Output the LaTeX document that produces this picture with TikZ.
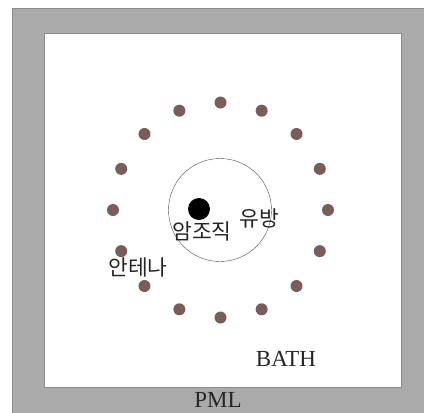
\documentclass[tikz,border=0pt]{standalone}
\usepackage{fontspec}
\setmainfont{Liberation Serif}
\newfontfamily\krfont{Noto Sans CJK KR}
\usepackage{tikz}
\usetikzlibrary{positioning, calc}
\usepackage{xcolor}
\definecolor{pmlgray}{RGB}{170,170,170}
\definecolor{framegray}{RGB}{140,140,140}
\definecolor{antennabrown}{RGB}{122,92,88}
\tikzset{
  pmlbox/.style={draw=framegray, fill=pmlgray},
  bathbox/.style={draw=framegray, fill=white},
  antennadot/.style={circle, fill=antennabrown, inner sep=0pt, minimum size=12pt},
  tumordot/.style={circle, fill=black, inner sep=0pt, minimum size=22pt},
  breastcircle/.style={circle, draw=black!70, inner sep=0pt, minimum size=103pt},
  krlabel/.style={font=\krfont\fontsize{21.5}{24}\selectfont, text=black!85, inner sep=0pt},
  enlabel/.style={font=\fontsize{23}{26}\selectfont, text=black!85, inner sep=0pt}
}
\begin{document}
\begin{tikzpicture}[x=1pt, y=-1pt]
  \useasboundingbox (0,0) rectangle (424,413);
  \fill[white] (0,0) rectangle (424,413);
  % PML and bath regions
  \draw[pmlbox] (12,8) rectangle (426,415);
  \draw[bathbox] (44,33) rectangle (401,387);
  % breast and tumour
  \node[breastcircle] (breast) at (220,210) {};
  \node[tumordot] (tumor) at (199,209) {};
  % antenna ring
  \coordinate (ringc) at (220.5,210);
  \foreach \i in {0,...,15} {
    \node[antennadot] (ant\i) at ($(ringc)+({90-22.5*\i}:-107.5 and 107.5)$) {};
  }
  % labels
  \node[krlabel] (tumorlbl) at (202,231) {암조직};
  \node[krlabel] (breastlbl) at (259,218) {유방};
  \node[krlabel] (antlbl) at (138,267) {안테나};
  \node[enlabel] (bathlbl) at (286,359) {BATH};
  \node[enlabel] (pmllbl) at (218,400) {PML};
\end{tikzpicture}
\end{document}
